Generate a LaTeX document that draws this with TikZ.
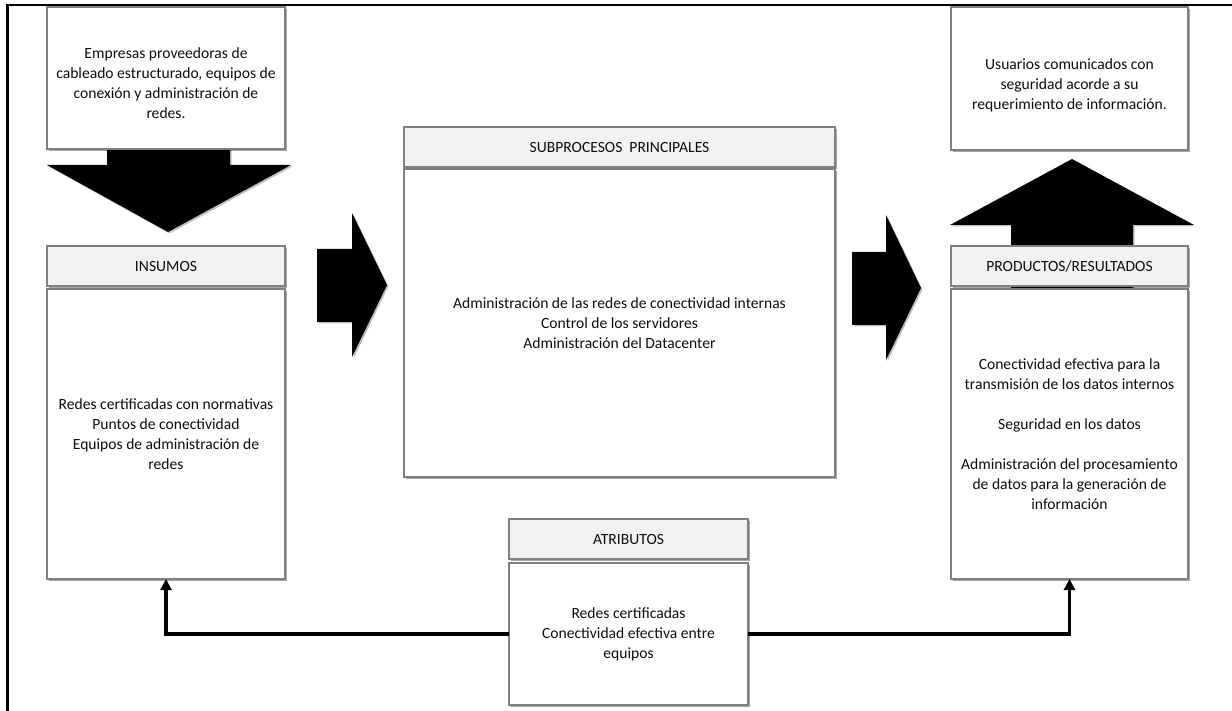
\documentclass[tikz,border=0pt]{standalone}
\usepackage{fontspec}
\setmainfont{Carlito}
\usetikzlibrary{shadows,arrows.meta}
\definecolor{boxline}{HTML}{808080}
\definecolor{headfill}{HTML}{F2F2F2}
\definecolor{inktext}{HTML}{0D0D0D}
\tikzset{
  panel/.style={draw=boxline, line width=1.3pt, fill=white, inner sep=0pt, outer sep=0pt,
    anchor=north west, align=center, text=inktext,
    drop shadow={shadow xshift=1.6pt, shadow yshift=-1.8pt, opacity=0.35, fill=black}},
  headbox/.style={panel, fill=headfill, minimum height=40pt},
  txt/.style={align=center, text=inktext, inner sep=0pt},
  blockarrow/.style={fill=black, drop shadow={shadow xshift=1.5pt, shadow yshift=-1.5pt, opacity=0.25, fill=black}},
  feedback/.style={line width=3.4pt, -{Triangle[width=11pt,length=11pt]}}
}
\begin{document}
\begin{tikzpicture}[x=1pt,y=-1pt, font=\fontsize{15.6}{20}\selectfont]
  % page and frame
  \fill[white] (0,0) rectangle (1232,711);
  \useasboundingbox (0,0) rectangle (1232,711);
  \draw[line width=2.4pt] (7.3,711) -- (7.3,5.3) -- (1232,5.3);

  % block arrows (drawn first, so the boxes cover their shafts)
  \fill[blockarrow] (107,140) -- (230,140) -- (230,165) -- (291,165) -- (168,232)
    -- (47,165) -- (107,165) -- cycle;
  \fill[blockarrow] (317,249) -- (352,249) -- (352,213) -- (387,285) -- (352,357)
    -- (352,322) -- (317,322) -- cycle;
  \fill[blockarrow] (852,252) -- (886,252) -- (886,215) -- (921,288) -- (886,360)
    -- (886,325) -- (852,325) -- cycle;
  \fill[blockarrow] (1011,290) -- (1011,225) -- (950,225) -- (1072,159) -- (1194,225)
    -- (1133,225) -- (1133,290) -- cycle;

  % suppliers
  \node[panel, minimum width=238pt, minimum height=142pt] (prov) at (47,7) {};
  \node[txt] (provt) at ([yshift=-5pt]prov.center)
    {Empresas proveedoras de\\cableado estructurado, equipos de\\conexión y administración de\\redes.};

  % inputs
  \node[headbox, minimum width=238pt] (insH) at (47,246) {INSUMOS};
  \node[panel, minimum width=238pt, minimum height=290pt] (insB) at (47,289)
    {Redes certificadas con normativas\\Puntos de conectividad\\Equipos de administración de\\redes};

  % main subprocesses
  \node[headbox, minimum width=431pt] (subH) at (404,127) {SUBPROCESOS\ \ PRINCIPALES};
  \node[panel, minimum width=431pt, minimum height=308pt] (subB) at (404,169)
    {Administración de las redes de conectividad internas\\Control de los servidores\\Administración del Datacenter};

  % users
  \node[panel, minimum width=237pt, minimum height=143pt] (usr) at (951,7) {};
  \node[txt] (usrt) at ([yshift=-7pt]usr.center)
    {Usuarios comunicados con\\seguridad acorde a su\\requerimiento de información.};

  % products / results
  \node[headbox, minimum width=237pt] (proH) at (951,246) {PRODUCTOS/RESULTADOS};
  \node[panel, minimum width=237pt, minimum height=290pt] (proB) at (951,289)
    {Conectividad efectiva para la\\transmisión de los datos internos\\[20pt]Seguridad en los datos\\[20pt]Administración del procesamiento\\de datos para la generación de\\información};

  % attributes
  \node[headbox, minimum width=239pt] (atrH) at (509,519) {ATRIBUTOS};
  \node[panel, minimum width=239pt, minimum height=142pt] (atrB) at (509,563)
    {Redes certificadas\\Conectividad efectiva entre\\equipos};

  % feedback connectors
  \draw[feedback] (atrB.west) -| (insB.south);
  \draw[feedback] (atrB.east) -| (proB.south);
\end{tikzpicture}
\end{document}
